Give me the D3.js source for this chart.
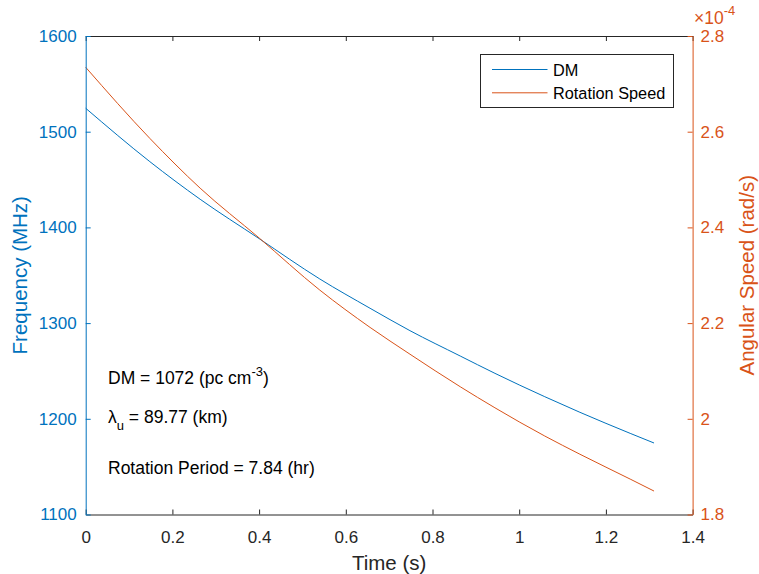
<!DOCTYPE html>
<html>
<head>
<meta charset="utf-8">
<script src="https://cdn.jsdelivr.net/npm/d3@7"></script>
<style>
  body { margin: 0; background: #fff; }
  svg text { font-family: "Liberation Sans", Arial, Helvetica, sans-serif; }
</style>
</head>
<body>
<div class="container"></div>
<script>
// values
const timeDM = [0, 0.148, 0.264, 0.4, 0.540, 0.656, 0.748, 0.864, 0.944, 1.059, 1.140, 1.256, 1.311]
const freqDM = [1524.5, 1468.7, 1429.4, 1388.3, 1346.1, 1315.5, 1292.1, 1265.6, 1247.5, 1223.1, 1206.8, 1184.8, 1174.7]
const timeRot = [0, 0.148, 0.264, 0.4, 0.540, 0.656, 0.748, 0.864, 0.944, 1.059, 1.140, 1.256, 1.311]
const speedRot = [2.7346, 2.586, 2.482, 2.378, 2.269, 2.191, 2.135, 2.067, 2.023, 1.964, 1.926, 1.874, 1.849] // x 1e-4

const xTicks = [0, 0.2, 0.4, 0.6, 0.8, 1, 1.2, 1.4]
const leftTicks = [1100, 1200, 1300, 1400, 1500, 1600]
const rightTicks = [1.8, 2, 2.2, 2.4, 2.6, 2.8]

const legendNames = ['DM', 'Rotation Speed']

const blue = '#0072BD'
const red = '#D95319'
const dark = '#262626'

var width = 759, height = 574
var m = {left: 85.7, top: 36, right: 692.6, bottom: 514.5}

var svg = d3.select('.container')
  .append('svg')
  .attr('width', width)
  .attr('height', height)

var x = d3.scaleLinear().domain([0, 1.4]).range([m.left, m.right])
var yL = d3.scaleLinear().domain([1100, 1600]).range([m.bottom, m.top])
var yR = d3.scaleLinear().domain([1.8, 2.8]).range([m.bottom, m.top])

// curves
var lineL = d3.line().x((d, i) => x(timeDM[i])).y(d => yL(d)).curve(d3.curveMonotoneX)
var lineR = d3.line().x((d, i) => x(timeRot[i])).y(d => yR(d)).curve(d3.curveMonotoneX)

svg.append('path')
  .attr('d', lineL(freqDM))
  .attr('fill', 'none')
  .attr('stroke', blue)
  .attr('stroke-width', 1)

svg.append('path')
  .attr('d', lineR(speedRot))
  .attr('fill', 'none')
  .attr('stroke', red)
  .attr('stroke-width', 1)

// axes, matlab style ticks pointing inward
var tickFont = '17px'

var xAxisB = d3.axisBottom(x).tickValues(xTicks).tickSizeInner(-5).tickSizeOuter(0).tickPadding(16)
  .tickFormat(d3.format('~g'))
var gB = svg.append('g').attr('transform', `translate(0,${m.bottom})`).call(xAxisB)
gB.select('.domain').attr('stroke', dark)
gB.selectAll('line').attr('stroke', dark)
gB.selectAll('text').attr('fill', dark).style('font-size', tickFont)

var xAxisT = d3.axisTop(x).tickValues(xTicks).tickSizeInner(-5).tickSizeOuter(0).tickFormat('')
var gT = svg.append('g').attr('transform', `translate(0,${m.top})`).call(xAxisT)
gT.select('.domain').attr('stroke', dark)
gT.selectAll('line').attr('stroke', dark)

var yAxisL = d3.axisLeft(yL).tickValues(leftTicks).tickSizeInner(-5).tickSizeOuter(0).tickPadding(9)
  .tickFormat(d3.format('d'))
var gL = svg.append('g').attr('transform', `translate(${m.left},0)`).call(yAxisL)
gL.select('.domain').attr('stroke', blue)
gL.selectAll('line').attr('stroke', blue)
gL.selectAll('text').attr('fill', blue).style('font-size', tickFont)

var yAxisR = d3.axisRight(yR).tickValues(rightTicks).tickSizeInner(-5).tickSizeOuter(0).tickPadding(8)
  .tickFormat(d3.format('~g'))
var gR = svg.append('g').attr('transform', `translate(${m.right},0)`).call(yAxisR)
gR.select('.domain').attr('stroke', red)
gR.selectAll('line').attr('stroke', red)
gR.selectAll('text').attr('fill', red).style('font-size', tickFont)

svg.selectAll('.domain, .tick line').attr('stroke-width', 1)

// exponent label, sits just above the 2.8 tick
var expo = svg.append('text')
  .attr('x', 694)
  .attr('y', 24)
  .attr('fill', red)
expo.append('tspan').style('font-size', '17.5px').text('\u00d710')
expo.append('tspan').attr('dy', -9).style('font-size', '13px').text('-4')

// axis titles
svg.append('text')
  .attr('x', (m.left + m.right) / 2)
  .attr('y', 570)
  .attr('text-anchor', 'middle')
  .attr('fill', dark)
  .style('font-size', '20.5px')
  .text('Time (s)')

svg.append('text')
  .attr('transform', `translate(27,${(m.top + m.bottom) / 2}) rotate(-90)`)
  .attr('text-anchor', 'middle')
  .attr('fill', blue)
  .style('font-size', '20.5px')
  .text('Frequency (MHz)')

svg.append('text')
  .attr('transform', `translate(754,${(m.top + m.bottom) / 2}) rotate(-90)`)
  .attr('text-anchor', 'middle')
  .attr('fill', red)
  .style('font-size', '20.5px')
  .text('Angular Speed (rad/s)')

// legend
var lg = svg.append('g')
lg.append('rect')
  .attr('x', 480.5).attr('y', 54.5)
  .attr('width', 193).attr('height', 53)
  .attr('fill', '#fff')
  .attr('stroke', dark)
  .attr('stroke-width', 1)

legendNames.forEach(function (name, i) {
  var yy = 69.5 + i * 23.3
  lg.append('line')
    .attr('x1', 492).attr('x2', 547.5)
    .attr('y1', yy).attr('y2', yy)
    .attr('stroke', i == 0 ? blue : red)
    .attr('stroke-width', 1)
  lg.append('text')
    .attr('x', 553)
    .attr('y', yy + 6)
    .attr('fill', '#000')
    .style('font-size', '16.3px')
    .text(name)
})

// annotations
var noteFont = '17.5px'
var subFont = '13px'

var t1 = svg.append('text').attr('x', 108).attr('y', 384).attr('fill', '#000').style('font-size', noteFont)
t1.append('tspan').text('DM = 1072 (pc cm')
t1.append('tspan').attr('dy', -8).style('font-size', subFont).text('-3')
t1.append('tspan').attr('dy', 8).text(')')

var t2 = svg.append('text').attr('x', 108).attr('y', 423).attr('fill', '#000').style('font-size', noteFont)
t2.append('tspan').text('\u03bb')
t2.append('tspan').attr('dy', 7).style('font-size', subFont).text('u')
t2.append('tspan').attr('dy', -7).text(' = 89.77 (km)')

svg.append('text').attr('x', 108).attr('y', 474).attr('fill', '#000').style('font-size', noteFont)
  .text('Rotation Period = 7.84 (hr)')
</script>
</body>
</html>
